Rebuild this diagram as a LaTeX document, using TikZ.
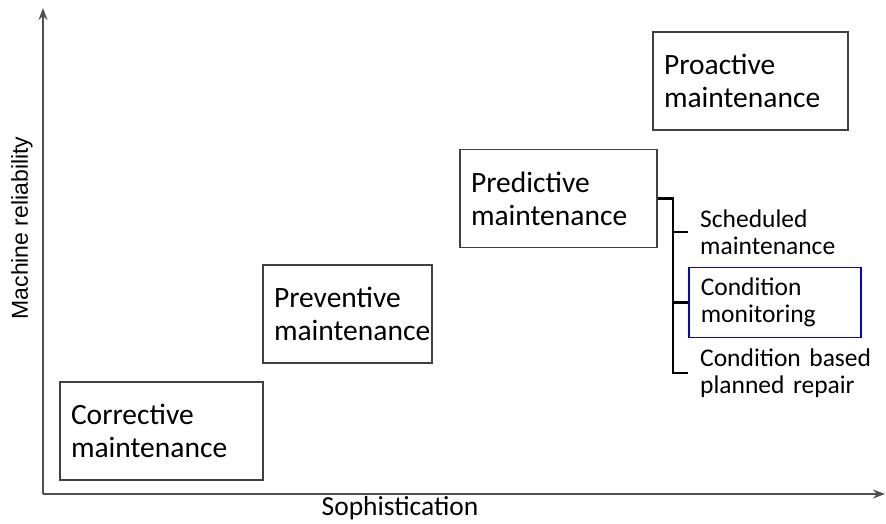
\documentclass[tikz,border=0pt]{standalone}
\usepackage{fontspec}
\setmainfont{Carlito}
\newfontfamily\ylabfont{Liberation Sans}
\usetikzlibrary{arrows.meta,positioning}

\definecolor{framegray}{RGB}{64,64,64}
\definecolor{axisgray}{RGB}{80,80,80}
\definecolor{monblue}{RGB}{0,0,235}

\tikzset{
  stage/.style={draw=framegray, line width=1.8pt, inner xsep=11pt, align=left,
    text width=#1, minimum height=98pt, font=\fontsize{29.5}{33}\selectfont},
  subitem/.style={inner xsep=12pt, inner ysep=4pt, align=left,
    font=\fontsize{25.5}{27}\selectfont},
  axis/.style={draw=axisgray, line width=1.8pt, -{Stealth[length=12pt,width=9pt]}},
  bracket/.style={draw=black, line width=2.4pt}
}

\begin{document}
\begin{tikzpicture}[x=1pt,y=-1pt]
        \useasboundingbox (0,0) rectangle (886,523);

        % axes
        \coordinate (origin) at (43,494);
        \draw[axis] (origin) -- (43,8);
        \draw[axis] (origin) -- (885,494);
        \node[font=\ylabfont\fontsize{23}{25}\selectfont, rotate=90] (ylab) at (22,228) {Machine reliability};
        \node[font=\fontsize{27.5}{30}\selectfont] (xlab) at (400,508) {Sophistication};

        % maintenance stages
        \node[stage=181pt] (corr) at (161.5,431) {Corrective\\maintenance};
        \node[stage=147pt] (prev) at (347.5,314) {Preventive\\maintenance};
        \node[stage=175pt] (pred) at (558.5,198.5) {Predictive\\maintenance};
        \node[stage=173pt] (proa) at (750.5,81) {Proactive\\maintenance};

        % sub-strategies of predictive maintenance
        \node[subitem, anchor=west, text width=180pt] (sched) at (688,232) {Scheduled\\maintenance};
        \node[subitem, anchor=west, text width=148pt, draw=monblue, line width=1.6pt,
              minimum height=70pt] (cmon) at (688,302.5) {Condition\\monitoring};
        \node[subitem, anchor=west, text width=180pt] (cbpr) at (688,373) {Condition based\\planned repair};

        \draw[bracket] (pred.east) -- ++(15,0) coordinate (spine) -- (spine |- cbpr.west) -- (cbpr.west);
        \draw[bracket] (spine |- sched.west) -- (sched.west);
        \draw[bracket] (spine |- cmon.west) -- (cmon.west);
\end{tikzpicture}
\end{document}
